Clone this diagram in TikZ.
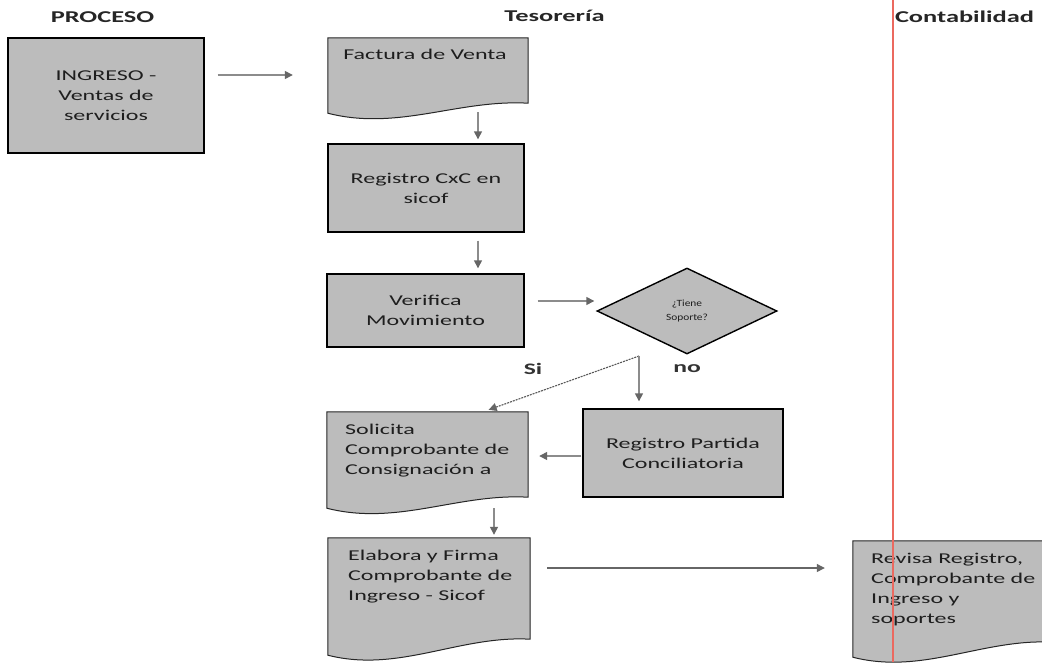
\documentclass[tikz,border=0pt]{standalone}
\usepackage{fontspec}
\setmainfont{Carlito}[FakeStretch=1.6]
\newfontfamily\diafont{Carlito}[FakeStretch=1.2]
\usetikzlibrary{shapes.geometric,arrows.meta,calc}
\definecolor{boxgray}{RGB}{188,188,188}
\definecolor{arrgray}{RGB}{140,140,140}
\definecolor{txt}{RGB}{30,30,30}
\newcommand\docpath[2]{%
  \path[docshape] (#1.north west) -- (#1.north east) -- (#1.south east)
    .. controls ($(#1.south west)!0.65!(#1.south east)+(0,-4)$) and ($(#1.south west)!0.35!(#1.south east)+(0,{#2+18})$) .. ($(#1.south west)+(0,#2)$) -- cycle;}
\begin{document}
\begin{tikzpicture}[x=1pt,y=-1pt,
  box/.style={draw=black, line width=1.4pt, fill=boxgray, rectangle, inner sep=0pt, align=center, text=txt, font=\fontsize{15}{20}\selectfont},
  docarea/.style={rectangle, inner sep=0pt, draw=none},
  docshape/.style={draw=black!85, line width=1pt, fill=boxgray},
  doctext/.style={inner sep=0pt, align=left, text=txt, font=\fontsize{15}{20}\selectfont},
  head/.style={inner sep=0pt, font=\bfseries\fontsize{16.5}{20}\selectfont, text=black!85},
  lab/.style={inner sep=0pt, font=\bfseries\fontsize{16}{20}\selectfont, text=black!80},
  diabox/.style={diamond, draw=black, line width=1.4pt, fill=boxgray, minimum width=180pt, minimum height=86pt, inner sep=0pt, align=center, text=txt, font={\diafont\fontsize{9.5}{14}\selectfont}},
  arr/.style={draw=arrgray, line width=1.4pt, -{Triangle[length=8pt,width=8pt,color=black!60]}},
  arrdark/.style={draw=black!60, line width=1.2pt, -{Triangle[length=8pt,width=8pt,color=black!60]}},
  siarr/.style={draw=black!65, line width=1.1pt, dash pattern=on 2pt off 1pt, -{Triangle[length=8pt,width=8pt,color=black!60]}},
  redrule/.style={draw={rgb,255:red,235;green,105;blue,95}, line width=1.2pt}
]
\fill[white] (0,0) rectangle (1042,662);
\useasboundingbox (0,0) rectangle (1042,662);

% headers
\node[head] (hp) at (102.5,17) {PROCESO};
\node[head] (ht) at (554.5,16) {Tesorería};
\node[head] (hc) at (964.5,17) {Contabilidad};

% process boxes
\node[box, minimum width=196pt, minimum height=115pt] (ing) at (106,95.5) {INGRESO -\\Ventas de\\servicios};
\node[box, minimum width=196pt, minimum height=88pt] (reg) at (426,188) {Registro CxC en\\sicof};
\node[box, minimum width=197pt, minimum height=73pt] (ver) at (425.5,310.5) {Verifica\\Movimiento};
\node[box, minimum width=200pt, minimum height=88pt] (par) at (683,453) {Registro Partida\\Conciliatoria};
\node[diabox] (dia) at (687,311) {¿Tiene\\Soporte?};

% document areas
\node[docarea, minimum width=200pt, minimum height=65pt] (fac) at (428,70.5) {};
\node[docarea, minimum width=201pt, minimum height=85pt] (sol) at (427.5,454.5) {};
\node[docarea, minimum width=202pt, minimum height=101pt] (ela) at (429,588.5) {};
\node[docarea, minimum width=200pt, minimum height=101pt] (rev) at (953,591.5) {};

\docpath{fac}{10}
\docpath{sol}{11}
\docpath{ela}{16}
\docpath{rev}{15}

\node[doctext, anchor=north] (facT) at (425,49) {Factura de Venta};
\node[doctext, anchor=north west] (solT) at (345,424) {Solicita\\Comprobante de\\Consignación a};
\node[doctext, anchor=north west] (elaT) at (348,550) {Elabora y Firma\\Comprobante de\\Ingreso - Sicof};
\node[doctext, anchor=north west] (revT) at (871,553) {Revisa Registro,\\Comprobante de\\Ingreso y\\soportes};

% labels
\node[lab] (si) at (533,369) {Si};
\node[lab] (no) at (687,369) {no};

% helper coordinates
\coordinate (yA) at (0,75);
\coordinate (xA) at (478,0);
\coordinate (yB) at (0,301);
\coordinate (split) at (639,356);
\coordinate (xC) at (483,0);
\coordinate (yC) at (0,456);
\coordinate (xD) at (494,0);
\coordinate (yE) at (0,568);

% connectors
\draw[arr, shorten <=13pt, shorten >=35pt] (ing.east |- yA) -- (fac.west |- yA);
\draw[arr, shorten <=9pt, shorten >=4pt] (fac.south -| xA) -- (reg.north -| xA);
\draw[arr, shorten <=8pt, shorten >=5pt] (reg.south -| xA) -- (ver.north -| xA);
\draw[arr, shorten <=13pt, shorten >=2pt] (ver.east |- yB) -- (dia.west |- yB);
\draw[siarr, shorten >=6pt] (split) -- (sol.north -| xC);
\draw[arr, shorten >=7pt] (split) -- (par.north -| split);
\draw[arr, shorten <=1pt, shorten >=11pt] (par.west |- yC) -- (sol.east |- yC);
\draw[arr, shorten <=11pt, shorten >=3pt] (sol.south -| xD) -- (ela.north -| xD);
\draw[arrdark, shorten <=17pt, shorten >=28pt] (ela.east |- yE) -- (rev.west |- yE);

% red margin line
\coordinate (rtop) at (893,0);
\coordinate (rbot) at (893,662);
\draw[redrule] (rtop) -- (rbot);
\end{tikzpicture}
\end{document}
